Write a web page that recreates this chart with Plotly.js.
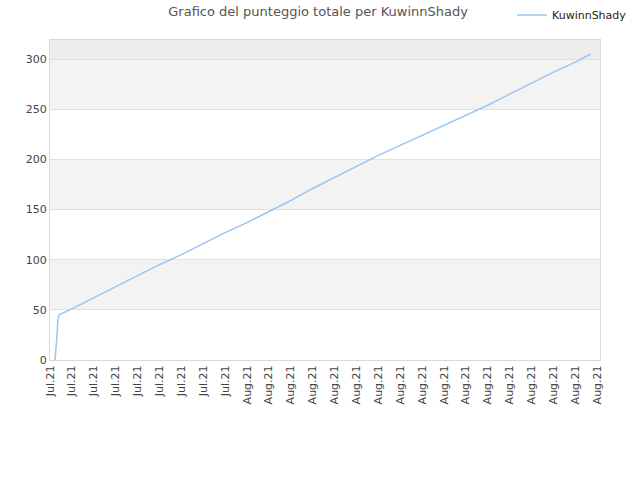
<!DOCTYPE html>
<html>
<head>
<meta charset="utf-8">
<script src="https://cdn.plot.ly/plotly-3.0.1.min.js"></script>
<style>
  html, body { margin: 0; padding: 0; background: #fff; }
  #chart { width: 640px; height: 480px; }
</style>
</head>
<body>
<div id="chart"></div>
<script>
// punteggio totale
const player = "KuwinnShady";
const dates = [
  "2021-07-23 05:30", "2021-07-23 06:30", "2021-07-23 07:30", "2021-07-23 08:30",
  "2021-07-23 10:00", "2021-07-24", "2021-07-25", "2021-07-26", "2021-07-27",
  "2021-07-28", "2021-07-29", "2021-07-30", "2021-07-31", "2021-08-01",
  "2021-08-02", "2021-08-03", "2021-08-04", "2021-08-05", "2021-08-06",
  "2021-08-07", "2021-08-08", "2021-08-09", "2021-08-10", "2021-08-11",
  "2021-08-12", "2021-08-13", "2021-08-14", "2021-08-15", "2021-08-16",
  "2021-08-16 17:00"
];
const scores = [
  0, 8, 22, 38,
  45, 51, 62, 73, 84,
  95, 105, 116, 127, 137,
  148, 159, 171, 182, 193,
  204, 214, 224, 234, 244,
  254, 265, 276, 287, 297,
  305
];
const bandEdges = [50, 150, 250];

let shapes = [];
for (let i = 0; i < bandEdges.length; i++) {
  shapes.push({
    "type": "rect", "xref": "paper", "yref": "y", "layer": "below",
    "x0": 0, "x1": 1, "y0": bandEdges[i], "y1": bandEdges[i] + 50,
    "fillcolor": "#f3f3f3", "line": {"width": 0}
  });
}
shapes.push({
  "type": "rect", "xref": "paper", "yref": "y", "layer": "below",
  "x0": 0, "x1": 1, "y0": 300, "y1": 320,
  "fillcolor": "#ededed", "line": {"width": 0}
});

const trace = {
  "x": dates,
  "y": scores,
  "type": "scatter",
  "mode": "lines",
  "name": player,
  "line": {"color": "#99c7f3", "width": 1.5}
};

const layout = {
  "width": 640,
  "height": 480,
  "margin": {"l": 50, "r": 40, "t": 40, "b": 120, "autoexpand": false},
  "paper_bgcolor": "#ffffff",
  "plot_bgcolor": "#ffffff",
  "font": {"family": "DejaVu Sans", "size": 11, "color": "#444"},
  "title": {
    "text": "Grafico del punteggio totale per " + player,
    "x": 0.497, "y": 0.985, "xanchor": "center", "yanchor": "top",
    "font": {"family": "DejaVu Sans", "size": 13, "color": "#555"}
  },
  "showlegend": true,
  "legend": {
    "x": 0.84, "y": 1.078, "xanchor": "left", "yanchor": "middle",
    "bgcolor": "rgba(0,0,0,0)",
    "font": {"size": 11, "color": "#222"}
  },
  "xaxis": {
    "type": "date",
    "range": ["2021-07-23 00:00", "2021-08-17 03:00"],
    "dtick": 86400000,
    "tick0": "2021-07-23",
    "tickformat": "%b.%y",
    "tickangle": -90,
    "showgrid": false,
    "zeroline": false,
    "showline": true,
    "linecolor": "#d8d8d8",
    "mirror": true,
    "ticks": "",
    "tickfont": {"size": 11, "color": "#444"}
  },
  "yaxis": {
    "range": [0, 319],
    "dtick": 50,
    "showgrid": true,
    "gridcolor": "#e0e0e0",
    "zeroline": false,
    "showline": true,
    "linecolor": "#d8d8d8",
    "mirror": true,
    "ticks": "",
    "tickfont": {"size": 11, "color": "#444"}
  },
  "shapes": shapes
};

Plotly.newPlot("chart", [trace], layout, {"displayModeBar": false, "staticPlot": true});
</script>
</body>
</html>
